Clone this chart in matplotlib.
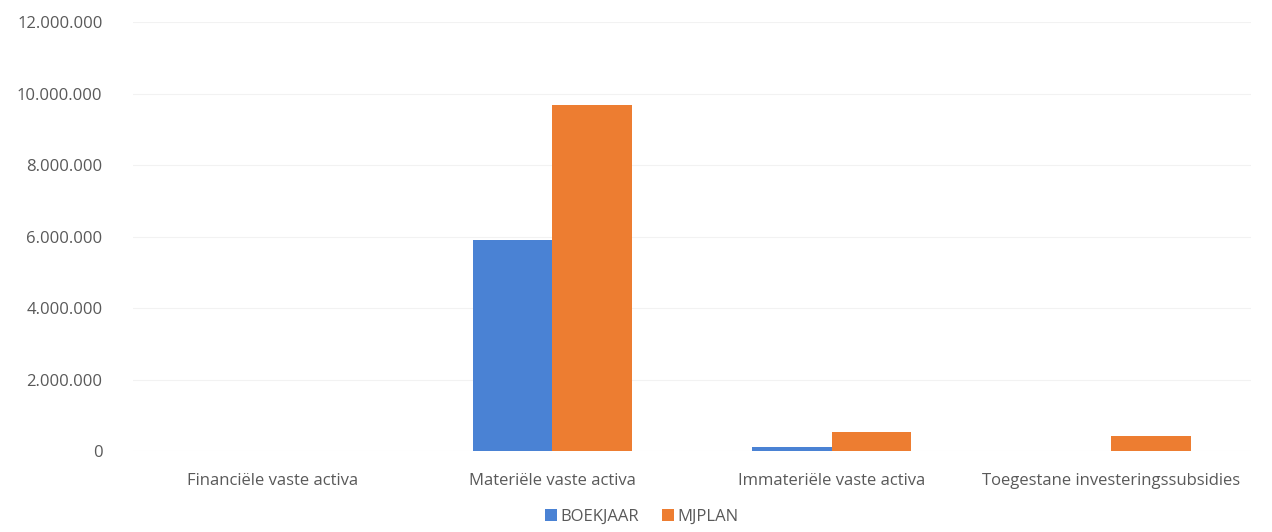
import numpy as np
import matplotlib
matplotlib.use('Agg')
import matplotlib.pyplot as plt
from matplotlib.ticker import FuncFormatter

# Data
categories = ['Financiële vaste activa', 'Materiële vaste activa',
              'Immateriële vaste activa', 'Toegestane investeringssubsidies']
boekjaar = [0, 5900000, 120000, 0]
mjplan = [0, 9680000, 530000, 420000]
yticks = [0, 2000000, 4000000, 6000000, 8000000, 10000000, 12000000]

plt.rcParams['font.family'] = ['Open Sans', 'DejaVu Sans']
text_color = '#595959'

fig = plt.figure(figsize=(12.72, 5.32), dpi=100)
ax = fig.add_axes([0.1046, 0.152, 0.879, 0.806])

x = np.arange(len(categories))
w = 0.284
ax.bar(x - w / 2, boekjaar, w, color='#4a82d4', label='BOEKJAAR', zorder=3)
ax.bar(x + w / 2, mjplan, w, color='#ed7d31', label='MJPLAN', zorder=3)

ax.set_xlim(-0.5, 3.5)
ax.set_ylim(0, 12000000)
ax.set_yticks(yticks)
ax.yaxis.set_major_formatter(FuncFormatter(lambda v, p: f'{int(v):,}'.replace(',', '.')))
ax.set_xticks(x)
ax.set_xticklabels(categories)
ax.tick_params(axis='both', length=0, labelsize=12, colors=text_color)
ax.tick_params(axis='y', pad=22)
ax.tick_params(axis='x', pad=16)
ax.grid(axis='y', color='#f2f2f2', linewidth=0.8, zorder=0)
for s in ax.spines.values():
    s.set_visible(False)

ax.legend(loc='upper center', bbox_to_anchor=(0.455, -0.1), ncol=2, frameon=False,
          fontsize=12, labelcolor=text_color, handlelength=0.7, handleheight=0.7,
          handletextpad=0.2, columnspacing=1.4)

fig.savefig('out.png', dpi=100, facecolor='white')
